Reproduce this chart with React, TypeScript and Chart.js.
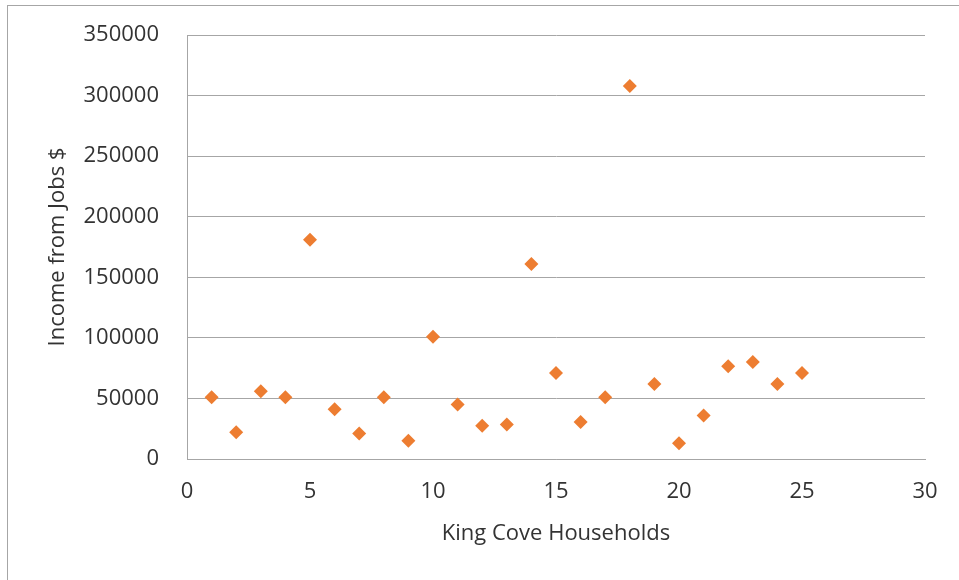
import React, { useEffect, useRef } from "react";
import { Chart, registerables } from "chart.js";

Chart.register(...registerables);

// Household number (x) and yearly income from jobs in dollars (y)
const households = [
  1, 2, 3, 4, 5, 6, 7, 8, 9, 10, 11, 12, 13, 14, 15, 16, 17, 18, 19, 20, 21, 22, 23, 24, 25,
];
const incomeFromJobs = [
  51000, 22000, 56000, 51000, 181000, 41000, 21000, 51000, 15000, 101000, 45000, 27500, 28500,
  161000, 71000, 30500, 51000, 308000, 62000, 13000, 36000, 76500, 80000, 62000, 71000,
];

const xTitle = "King Cove Households";
const yTitle = "Income from Jobs $";

const X_MIN = 0;
const X_MAX = 30;
const X_STEP = 5;
const Y_MIN = 0;
const Y_MAX = 350000;
const Y_STEP = 50000;

const FONT = "'Open Sans', 'DejaVu Sans', sans-serif";
const TEXT = "#333333";
const GRID = "#a6a6a6";
const MARKER = "#ED7D31";

export default function App() {
  const canvasRef = useRef<HTMLCanvasElement | null>(null);

  useEffect(() => {
    const canvas = canvasRef.current;
    if (!canvas) return;

    const points = households.map((x, i) => ({ x, y: incomeFromJobs[i] }));

    const chart = new Chart(canvas, {
      type: "scatter",
      data: {
        datasets: [
          {
            label: "Income from Jobs",
            data: points,
            pointStyle: "rectRot",
            pointRadius: 7,
            pointHoverRadius: 7,
            backgroundColor: MARKER,
            borderColor: MARKER,
            borderWidth: 0,
          },
        ],
      },
      options: {
        responsive: false,
        animation: false,
        events: [],
        layout: { padding: { top: 35, right: 34, left: 0, bottom: 0 } },
        plugins: {
          legend: { display: false },
          tooltip: { enabled: false },
        },
        scales: {
          x: {
            type: "linear",
            min: X_MIN,
            max: X_MAX,
            afterFit: (scale: any) => {
              scale.height = 121;
              scale.paddingLeft = 0;
              scale.paddingRight = 0;
            },
            ticks: {
              stepSize: X_STEP,
              padding: 20,
              color: TEXT,
              font: { family: FONT, size: 22 },
              callback: (v: any) => String(v),
            },
            grid: { display: false, drawTicks: false },
            border: { display: true, color: GRID, width: 1 },
            title: {
              display: true,
              text: xTitle,
              color: TEXT,
              font: { family: FONT, size: 22 },
              padding: { top: 0, bottom: 33 },
            },
          },
          y: {
            type: "linear",
            min: Y_MIN,
            max: Y_MAX,
            afterFit: (scale: any) => {
              scale.width = 187;
              scale.paddingTop = 0;
              scale.paddingBottom = 0;
            },
            ticks: {
              stepSize: Y_STEP,
              padding: 28,
              color: TEXT,
              font: { family: FONT, size: 22 },
              callback: (v: any) => String(v),
            },
            grid: { color: GRID, lineWidth: 1, drawTicks: false },
            border: { display: true, color: GRID, width: 1 },
            title: {
              display: true,
              text: yTitle,
              color: TEXT,
              font: { family: FONT, size: 22 },
              padding: { top: 45, bottom: 0 },
            },
          },
        },
      },
    });

    return () => chart.destroy();
  }, []);

  return (
    <div
      style={{
        position: "fixed",
        left: 0,
        top: 0,
        width: 959,
        height: 580,
        overflow: "hidden",
        background: "#ffffff",
      }}
    >
      <div
        style={{
          position: "absolute",
          left: 7,
          top: 5,
          width: 1000,
          height: 700,
          border: "1px solid #a6a6a6",
        }}
      />
      <canvas
        ref={canvasRef}
        width={959}
        height={580}
        style={{ position: "absolute", left: 0, top: 0, width: 959, height: 580 }}
      />
    </div>
  );
}
